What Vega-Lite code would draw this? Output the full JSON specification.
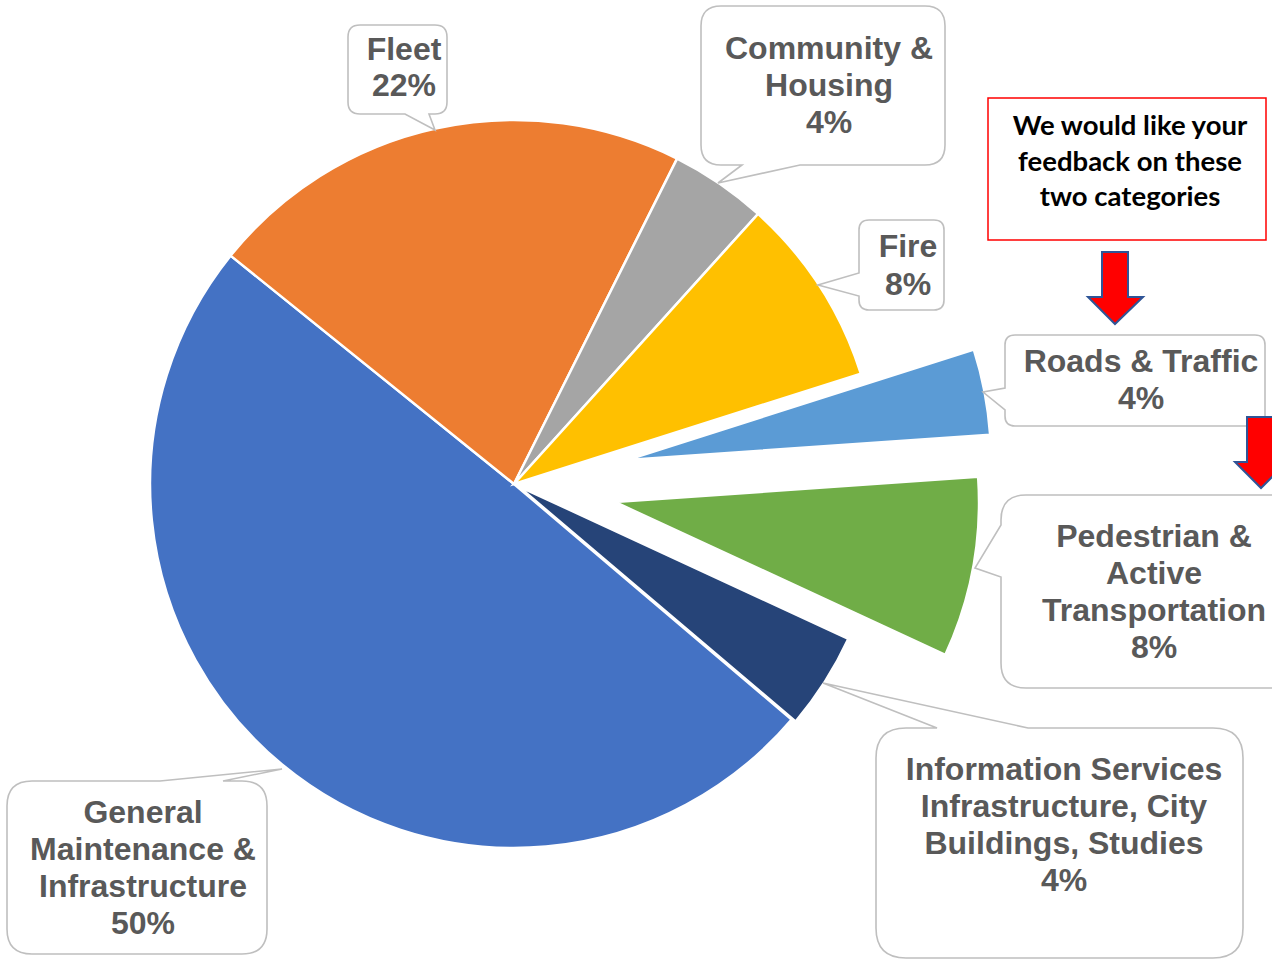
{
  "$schema": "https://vega.github.io/schema/vega-lite/v6.json",
  "autosize": "none",
  "padding": {"left": 0, "top": 0, "right": 244, "bottom": 0},
  "width": 1028,
  "height": 968,
  "background": "#ffffff",
  "config": {"view": {"stroke": null}},
  "data": {"values": [
    {"category": "General Maintenance & Infrastructure", "name": "General\nMaintenance &\nInfrastructure", "value": 49.6},
    {"category": "Fleet", "name": "Fleet", "value": 21.6},
    {"category": "Community & Housing", "name": "Community &\nHousing", "value": 4.3},
    {"category": "Fire", "name": "Fire", "value": 8.4},
    {"category": "Roads & Traffic", "name": "Roads & Traffic", "value": 3.8},
    {"category": "Pedestrian & Active Transportation", "name": "Pedestrian &\nActive\nTransportation", "value": 8.0},
    {"category": "Information Services Infrastructure, City Buildings, Studies", "name": "Information Services\nInfrastructure, City\nBuildings, Studies", "value": 4.3}
  ]},
  "resolve": {"scale": {"shape": "independent"}},
  "layer": [
    {
      "transform": [
        {"stack": "value", "groupby": [], "as": ["v0", "v1"]},
        {"filter": "datum.category != 'Roads & Traffic' && datum.category != 'Pedestrian & Active Transportation' && datum.category != 'Information Services Infrastructure, City Buildings, Studies'"}
      ],
      "mark": {"type": "arc", "outerRadius": 364, "stroke": "#ffffff", "strokeWidth": 2.5},
      "encoding": {
        "theta": {"field": "v0", "type": "quantitative", "scale": {"domain": [0, 100], "range": [2.2742, 8.5574]}},
        "theta2": {"field": "v1"},
        "color": {"field": "category", "type": "nominal", "legend": null,
          "scale": {"domain": ["General Maintenance & Infrastructure", "Fleet", "Community & Housing", "Fire", "Roads & Traffic", "Pedestrian & Active Transportation", "Information Services Infrastructure, City Buildings, Studies"],
                    "range": ["#4472C4", "#ED7D31", "#A5A5A5", "#FFC000", "#5B9BD5", "#70AD47", "#264478"]}}
      }
    },
    {
      "transform": [
        {"stack": "value", "groupby": [], "as": ["v0", "v1"]},
        {"filter": "datum.category == 'Roads & Traffic'"}
      ],
      "mark": {"type": "arc", "outerRadius": 364, "stroke": "#ffffff", "strokeWidth": 2.5, "xOffset": 113, "yOffset": -24},
      "encoding": {
        "theta": {"field": "v0", "type": "quantitative"},
        "theta2": {"field": "v1"},
        "color": {"field": "category", "type": "nominal", "legend": null}
      }
    },
    {
      "transform": [
        {"stack": "value", "groupby": [], "as": ["v0", "v1"]},
        {"filter": "datum.category == 'Pedestrian & Active Transportation'"}
      ],
      "mark": {"type": "arc", "outerRadius": 364, "stroke": "#ffffff", "strokeWidth": 2.5, "xOffset": 101, "yOffset": 18},
      "encoding": {
        "theta": {"field": "v0", "type": "quantitative"},
        "theta2": {"field": "v1"},
        "color": {"field": "category", "type": "nominal", "legend": null}
      }
    },
    {
      "transform": [
        {"stack": "value", "groupby": [], "as": ["v0", "v1"]},
        {"filter": "datum.category == 'Information Services Infrastructure, City Buildings, Studies'"}
      ],
      "mark": {"type": "arc", "outerRadius": 364, "stroke": "#ffffff", "strokeWidth": 2.5, "xOffset": 4, "yOffset": 2},
      "encoding": {
        "theta": {"field": "v0", "type": "quantitative"},
        "theta2": {"field": "v1"},
        "color": {"field": "category", "type": "nominal", "legend": null}
      }
    },
    {
      "mark": {"type": "point", "filled": true, "fill": "#ffffff", "stroke": "#BFBFBF", "strokeWidth": 1.6, "size": 4, "opacity": 1},
      "encoding": {
        "shape": {"field": "category", "type": "nominal", "legend": null,
          "scale": {"domain": ["General Maintenance & Infrastructure", "Fleet", "Community & Housing", "Fire", "Roads & Traffic", "Pedestrian & Active Transportation", "Information Services Infrastructure, City Buildings, Studies"],
                    "range": [
                      "M-482,297H-354L-232,285L-291,297H-272Q-247,297,-247,322V445Q-247,470,-272,470H-482Q-507,470,-507,445V322Q-507,297,-482,297Z",
                      "M-154,-459H-79Q-67,-459,-67,-447V-382Q-67,-370,-79,-370H-85L-79,-354L-109,-370H-154Q-166,-370,-166,-382V-447Q-166,-459,-154,-459Z",
                      "M207,-478H411Q431,-478,431,-458V-339Q431,-319,411,-319H286L204,-301L228,-319H207Q187,-319,187,-339V-458Q187,-478,207,-478Z",
                      "M355,-264H420Q430,-264,430,-254V-184Q430,-174,420,-174H355Q345,-174,345,-184V-188L304,-199L345,-211V-254Q345,-264,355,-264Z",
                      "M501,-149H741Q751,-149,751,-139V-68Q751,-58,741,-58H501Q491,-58,491,-68V-74L469,-92L491,-96V-139Q491,-149,501,-149Z",
                      "M512,11H771Q796,11,796,36V179Q796,204,771,204H512Q487,204,487,179V93L461,84L487,41V36Q487,11,512,11Z",
                      "M392,244H423L309,199L514,244H699Q729,244,729,274V444Q729,474,699,474H392Q362,474,362,444V274Q362,244,392,244Z"
                    ]}}
      }
    },
    {
      "transform": [{"filter": "datum.category == 'Fleet'"}],
      "mark": {"type": "text", "font": "Liberation Sans", "fontWeight": "bold", "fontSize": 32, "lineHeight": 36, "color": "#595959", "align": "center", "baseline": "middle", "lineBreak": "\n", "dx": -110, "dy": -434,
               "text": {"expr": "datum.name + '\\n' + format(datum.value, '.0f') + '%'"}}
    },
    {
      "transform": [{"filter": "datum.category == 'Community & Housing'"}],
      "mark": {"type": "text", "font": "Liberation Sans", "fontWeight": "bold", "fontSize": 32, "lineHeight": 37, "color": "#595959", "align": "center", "baseline": "middle", "lineBreak": "\n", "dx": 315, "dy": -435,
               "text": {"expr": "datum.name + '\\n' + format(datum.value, '.0f') + '%'"}}
    },
    {
      "transform": [{"filter": "datum.category == 'Fire'"}],
      "mark": {"type": "text", "font": "Liberation Sans", "fontWeight": "bold", "fontSize": 32, "lineHeight": 38, "color": "#595959", "align": "center", "baseline": "middle", "lineBreak": "\n", "dx": 394, "dy": -237,
               "text": {"expr": "datum.name + '\\n' + format(datum.value, '.0f') + '%'"}}
    },
    {
      "transform": [{"filter": "datum.category == 'Roads & Traffic'"}],
      "mark": {"type": "text", "font": "Liberation Sans", "fontWeight": "bold", "fontSize": 32, "lineHeight": 37, "color": "#595959", "align": "center", "baseline": "middle", "lineBreak": "\n", "dx": 627, "dy": -122,
               "text": {"expr": "datum.name + '\\n' + format(datum.value, '.0f') + '%'"}}
    },
    {
      "transform": [{"filter": "datum.category == 'Pedestrian & Active Transportation'"}],
      "mark": {"type": "text", "font": "Liberation Sans", "fontWeight": "bold", "fontSize": 32, "lineHeight": 37, "color": "#595959", "align": "center", "baseline": "middle", "lineBreak": "\n", "dx": 640, "dy": 53,
               "text": {"expr": "datum.name + '\\n' + format(datum.value, '.0f') + '%'"}}
    },
    {
      "transform": [{"filter": "datum.category == 'Information Services Infrastructure, City Buildings, Studies'"}],
      "mark": {"type": "text", "font": "Liberation Sans", "fontWeight": "bold", "fontSize": 32, "lineHeight": 37, "color": "#595959", "align": "center", "baseline": "middle", "lineBreak": "\n", "dx": 550, "dy": 286,
               "text": {"expr": "datum.name + '\\n' + format(datum.value, '.0f') + '%'"}}
    },
    {
      "transform": [{"filter": "datum.category == 'General Maintenance & Infrastructure'"}],
      "mark": {"type": "text", "font": "Liberation Sans", "fontWeight": "bold", "fontSize": 32, "lineHeight": 37, "color": "#595959", "align": "center", "baseline": "middle", "lineBreak": "\n", "dx": -371, "dy": 329,
               "text": {"expr": "datum.name + '\\n' + format(datum.value, '.0f') + '%'"}}
    },
    {
      "transform": [{"filter": "datum.category == 'Roads & Traffic' || datum.category == 'Pedestrian & Active Transportation'"}],
      "mark": {"type": "point", "filled": true, "fill": "#FF0000", "stroke": "#2F5597", "strokeWidth": 2, "size": 4, "opacity": 1},
      "encoding": {
        "shape": {"field": "category", "type": "nominal", "legend": null,
          "scale": {"domain": ["Roads & Traffic", "Pedestrian & Active Transportation"],
                    "range": ["M588,-232H614V-187H629L601,-160L574,-187H588Z", "M733,-67H759V-22H773L747,4L721,-22H733Z"]}}
      }
    },
    {
      "data": {"values": [{"note": "We would like your\nfeedback on these\ntwo categories"}]},
      "mark": {"type": "point", "filled": true, "fill": "#ffffff", "stroke": "#FF0000", "strokeWidth": 1.5, "size": 4, "opacity": 1, "shape": "M474,-386H752V-244H474Z"}
    },
    {
      "data": {"values": [{"note": "We would like your\nfeedback on these\ntwo categories"}]},
      "mark": {"type": "text", "font": "Lato", "fontWeight": "bold", "fontSize": 27.5, "lineHeight": 35.5, "color": "#000000", "align": "center", "baseline": "middle", "lineBreak": "\n", "dx": 616, "dy": -357},
      "encoding": {"text": {"field": "note", "type": "nominal"}}
    }
  ]
}
